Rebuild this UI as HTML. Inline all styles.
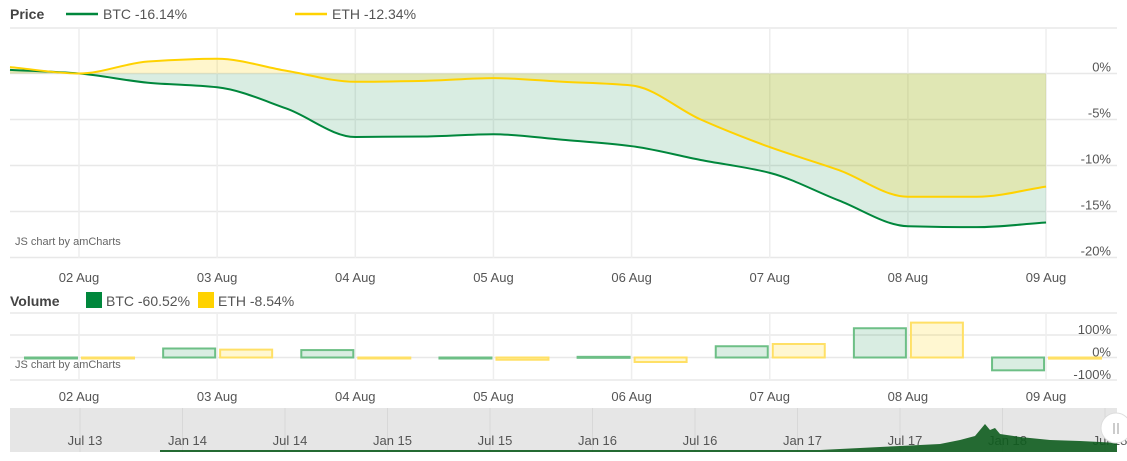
<!DOCTYPE html>
<html><head><meta charset="utf-8"><style>
body{margin:0;background:#fff;width:1127px;height:456px;overflow:hidden;font-family:"Liberation Sans",sans-serif;}
svg text{font-family:"Liberation Sans",sans-serif;}
</style></head><body>
<svg id="c" width="1127" height="456"></svg>
<script>
const dayIdx=[-0.5,0,0.5,1,1.5,2,2.5,3,3.5,4,4.5,5,5.5,6,6.5,7];
const btcPrice=[0.4,0,-1.0,-1.5,-3.8,-6.9,-6.85,-6.6,-7.2,-7.9,-9.4,-10.8,-13.8,-16.6,-16.7,-16.2];
const ethPrice=[0.7,0,1.3,1.6,0.3,-0.9,-0.8,-0.5,-0.9,-1.3,-5.0,-8.0,-10.5,-13.4,-13.4,-12.3];
const dateLabels=['02 Aug','03 Aug','04 Aug','05 Aug','06 Aug','07 Aug','08 Aug','09 Aug'];
const priceTicks=[0,-5,-10,-15,-20];
const volTicks=[100,0,-100];
const btcVol=[-1,40,33,-2,3,50,130,-57];
const ethVol=[-1,35,-3,-10,-20,60,155,-5];
const navLabels=['Jul 13','Jan 14','Jul 14','Jan 15','Jul 15','Jan 16','Jul 16','Jan 17','Jul 17','Jan 18','Jul 18'];

const NS='http://www.w3.org/2000/svg';
const svg=document.getElementById('c');
function el(t,a,p){const e=document.createElementNS(NS,t);for(const k in a)e.setAttribute(k,a[k]);(p||svg).appendChild(e);return e;}
const xd=d=>79+d*138.15;
const yp=v=>73.5-v*9.2;
const yv=v=>357.5-v*0.225;
const GREEN='#00873c',YEL='#ffd200';

[28].concat(priceTicks.map(yp)).forEach(y=>{const g=el('line',{x1:10,x2:1117,y1:y,y2:y,stroke:'#e8e8e8','stroke-width':1.5});});
dateLabels.forEach((l,i)=>{const g=el('line',{x1:xd(i),x2:xd(i),y1:28,y2:258,stroke:'#eee','stroke-width':1.5});});

function smooth(xs,ys){
  const n=xs.length,m=[];const d=[];
  for(let i=0;i<n-1;i++)d.push((ys[i+1]-ys[i])/(xs[i+1]-xs[i]));
  for(let i=0;i<n;i++){
    if(i==0)m.push(d[0]);else if(i==n-1)m.push(d[n-2]);
    else m.push(d[i-1]*d[i]<=0?0:2/(1/d[i-1]+1/d[i]));
  }
  let s='M'+xs[0]+','+ys[0];
  for(let i=0;i<n-1;i++){const h=(xs[i+1]-xs[i])/3;
    s+=' C'+(xs[i]+h)+','+(ys[i]+m[i]*h)+' '+(xs[i+1]-h)+','+(ys[i+1]-m[i+1]*h)+' '+xs[i+1]+','+ys[i+1];}
  return s;
}
const xs=dayIdx.map(d=>Math.max(10,xd(d)));
function series(vals,fill,name){
  const ys=vals.map(yp);const p=smooth(xs,ys);
  const a=el('path',{d:p+' L'+xs[xs.length-1]+','+yp(0)+' L'+xs[0]+','+yp(0)+'Z',fill:fill,stroke:'none'});
  
  return p;
}
const pb=series(btcPrice,'rgba(0,135,60,0.15)','btc');
const pe=series(ethPrice,'rgba(255,210,0,0.2)','eth');
let l=el('path',{d:pb,fill:'none',stroke:GREEN,'stroke-width':2});
l=el('path',{d:pe,fill:'none',stroke:YEL,'stroke-width':2});

priceTicks.forEach(v=>{const t=el('text',{x:1111,y:yp(v)-2,'text-anchor':'end','font-size':13,fill:'#555'});t.textContent=v+'%';});
dateLabels.forEach((s,i)=>{let t=el('text',{x:xd(i),y:282,'text-anchor':'middle','font-size':13,fill:'#555'});t.textContent=s;
 t=el('text',{x:xd(i),y:401,'text-anchor':'middle','font-size':13,fill:'#555'});t.textContent=s;});
let t=el('text',{x:15,y:245,'font-size':11,fill:'#666'});t.textContent='JS chart by amCharts';

t=el('text',{x:10,y:19,'font-size':14,'font-weight':'bold',fill:'#444'});t.textContent='Price';
let g=el('line',{x1:66,x2:98,y1:14,y2:14,stroke:GREEN,'stroke-width':2.5});
t=el('text',{x:103,y:19,'font-size':14,fill:'#555'});t.textContent='BTC -16.14%';
g=el('line',{x1:295,x2:327,y1:14,y2:14,stroke:YEL,'stroke-width':2.5});
t=el('text',{x:332,y:19,'font-size':14,fill:'#555'});t.textContent='ETH -12.34%';

t=el('text',{x:10,y:306,'font-size':14,'font-weight':'bold',fill:'#444'});t.textContent='Volume';
g=el('rect',{x:86,y:292,width:16,height:16,fill:GREEN});
t=el('text',{x:106,y:306,'font-size':14,fill:'#555'});t.textContent='BTC -60.52%';
g=el('rect',{x:198,y:292,width:16,height:16,fill:YEL});
t=el('text',{x:218,y:306,'font-size':14,fill:'#555'});t.textContent='ETH -8.54%';

[313,yv(100),yv(0),380].forEach(y=>{const q=el('line',{x1:10,x2:1117,y1:y,y2:y,stroke:'#e8e8e8','stroke-width':1.5});});
dateLabels.forEach((s,i)=>{const q=el('line',{x1:xd(i),x2:xd(i),y1:313,y2:380,stroke:'#eee','stroke-width':1.5});});
function bar(v,x,col,fill,name){const y0=yv(0),y1=yv(v);
 const r=el('rect',{x:x,y:Math.min(y0,y1),width:52,height:Math.max(1,Math.abs(y1-y0)),fill:fill,stroke:col,'stroke-width':2});
 }
btcVol.forEach((v,i)=>bar(v,xd(i)-54,'#6dbf86','rgba(0,135,60,0.15)','btc-volume-bar'));
ethVol.forEach((v,i)=>bar(v,xd(i)+3,'#ffe066','rgba(255,210,0,0.18)','eth-volume-bar'));
volTicks.forEach(v=>{const q=el('text',{x:1111,y:yv(v)-1,'text-anchor':'end','font-size':13,fill:'#555'});q.textContent=v+'%';});
t=el('text',{x:15,y:368,'font-size':11,fill:'#666'});t.textContent='JS chart by amCharts';

g=el('rect',{x:10,y:408,width:1107,height:44,fill:'#e6e6e6'});
navLabels.forEach((s,i)=>{const x=85+i*102.5;
 const q=el('line',{x1:x-5,x2:x-5,y1:408,y2:452,stroke:'#d8d8d8'});
 const tt=el('text',{x:x,y:445,'text-anchor':'middle','font-size':13,fill:'#555'});tt.textContent=s;});
g=el('path',{d:'M160,450 L820,450 L860,448 L900,446 L940,444 L960,440 L975,436 L985,424 L990,430 L995,428 L1000,434 L1020,437 L1050,440 L1080,441 L1100,442 L1117,443 L1117,452 L160,452Z',fill:'#0e5c1e',opacity:0.9});
g=el('circle',{cx:1116,cy:428,r:15,fill:'#fff',stroke:'#ddd'});
el('line',{x1:1114,x2:1114,y1:423,y2:434,stroke:'#bbb','stroke-width':1.5});el('line',{x1:1118,x2:1118,y1:423,y2:434,stroke:'#bbb','stroke-width':1.5});
</script>
</body></html>
